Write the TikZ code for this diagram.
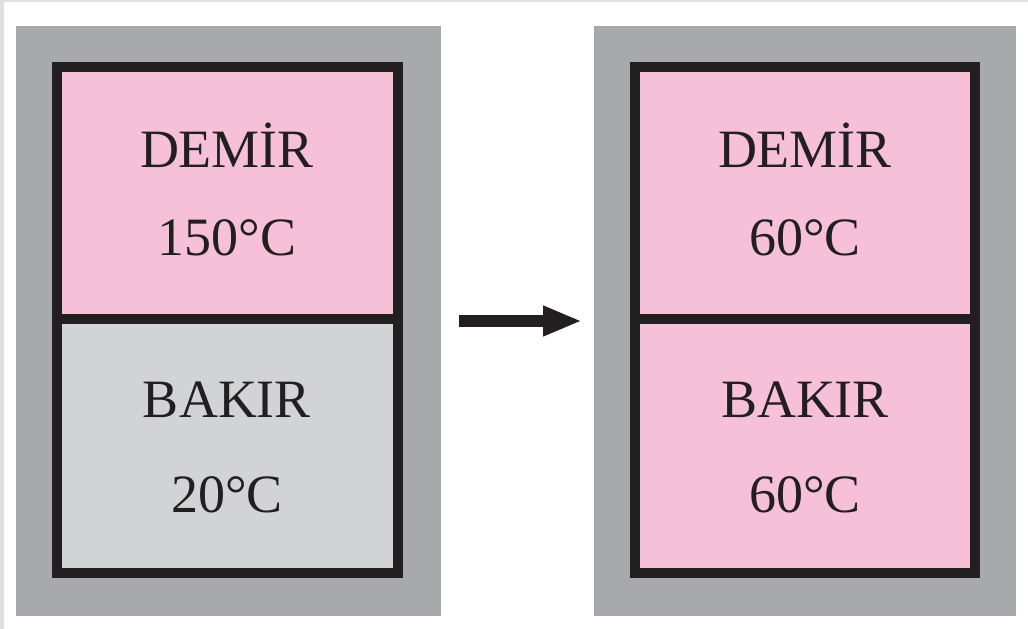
\documentclass[tikz,border=0pt]{standalone}
\usepackage{fontspec}
\setmainfont{Liberation Serif}
\usetikzlibrary{arrows.meta}
\definecolor{casegray}{HTML}{A8A9AD}
\definecolor{hotpink}{HTML}{F7C0D9}
\definecolor{coldgray}{HTML}{D1D3D5}
\definecolor{edge}{HTML}{231F20}
\definecolor{rule}{HTML}{E0E0E0}
\tikzset{
  casebox/.style={fill=casegray},
  frame/.style={draw=edge, line width=10pt},
  label/.style={anchor=base, inner sep=0pt, text=edge,
    font=\fontsize{54}{60}\selectfont},
  heatarrow/.style={draw=edge, line width=12pt,
    -{Triangle[length=39pt,width=28pt]}}
}
\begin{document}
\begin{tikzpicture}[x=1pt,y=-1pt]
  \useasboundingbox (0,0) rectangle (1028,629);
  \fill[white] (0,0) rectangle (1028,629);
  % thin page rules
  \fill[rule] (0,0) rectangle (1028,2);
  \fill[rule] (0,0) rectangle (4,629);

  % left container: before
  \fill[casebox] (16,26) rectangle (441,616);
  \fill[hotpink] (57,66.5) rectangle (397.5,319);
  \fill[coldgray] (57,319) rectangle (397.5,572.5);
  \draw[frame] (57,66.5) rectangle (397.5,572.5);
  \draw[frame] (57,319) -- (397.5,319);
  \node[label] (ironA) at (227,167) {DEMİR};
  \node[label] (ironAT) at (227,255) {150°C};
  \node[label] (copperA) at (227,417) {BAKIR};
  \node[label] (copperAT) at (227,512) {20°C};

  % right container: after
  \fill[casebox] (594,26) rectangle (1016,616);
  \fill[hotpink] (635,66.5) rectangle (975,319);
  \fill[hotpink] (635,319) rectangle (975,572.5);
  \draw[frame] (635,66.5) rectangle (975,572.5);
  \draw[frame] (635,319) -- (975,319);
  \node[label] (ironB) at (805,167) {DEMİR};
  \node[label] (ironBT) at (805,255) {60°C};
  \node[label] (copperB) at (805,417) {BAKIR};
  \node[label] (copperBT) at (805,512) {60°C};

  % arrow between the two states
  \coordinate (from) at (459,321);
  \coordinate (to) at (582,321);
  \draw[heatarrow] (from) -- (to);
\end{tikzpicture}
\end{document}
